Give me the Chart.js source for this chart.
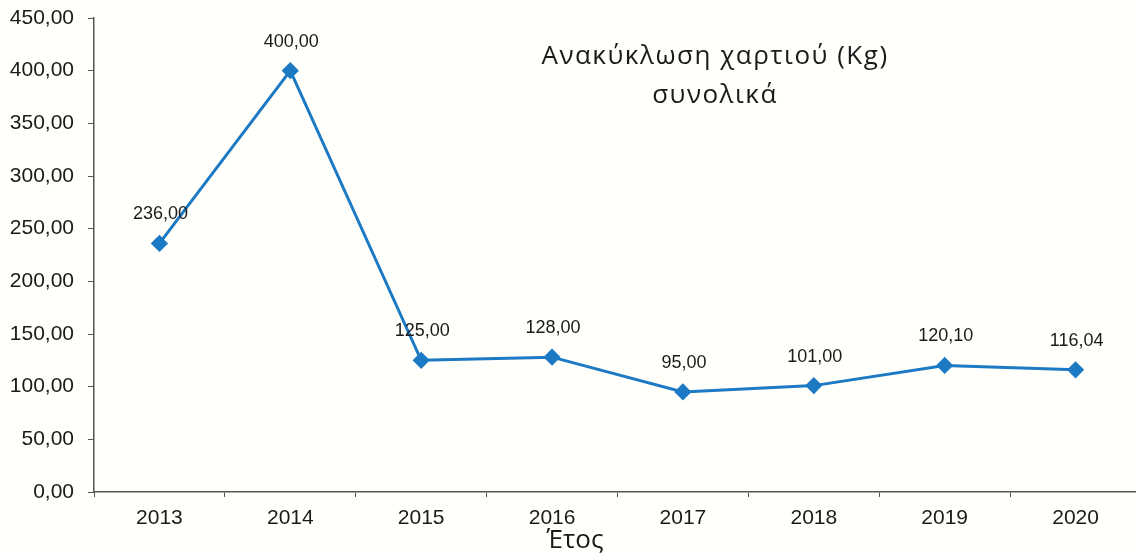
<!DOCTYPE html>
<html lang="el">
<head>
  <meta charset="UTF-8" />
  <title>Ανακύκλωση χαρτιού</title>
  <script src="https://cdn.jsdelivr.net/npm/chart.js"></script>
  <style>
    html, body { margin: 0; padding: 0; background: #fffffc; overflow: hidden; }
    #wrap { width: 1141px; height: 555px; }
  </style>
</head>
<body>
  <div id="wrap"><canvas id="chart"></canvas></div>
  <script>
    // δεδομένα
    const years = ['2013', '2014', '2015', '2016', '2017', '2018', '2019', '2020'];
    const kilos = [236.00, 400.00, 125.00, 128.00, 95.00, 101.00, 120.10, 116.04];
    const titleLines = ['Ανακύκλωση χαρτιού (Kg)', 'συνολικά'];
    const xTitle = 'Έτος';

    const fmt = v => v.toFixed(2).replace('.', ',');

    // ετικέτες τιμών πάνω από τα σημεία
    const valueLabels = {
      id: 'valueLabels',
      afterDatasetsDraw(chart) {
        const ctx = chart.ctx;
        const meta = chart.getDatasetMeta(0);
        ctx.save();
        ctx.font = '18px "Liberation Sans", Arial, sans-serif';
        ctx.fillStyle = '#1a1a1a';
        ctx.textAlign = 'center';
        ctx.textBaseline = 'middle';
        meta.data.forEach((pt, i) => {
          ctx.fillText(fmt(kilos[i]), pt.x + 1, pt.y - 29);
        });
        ctx.restore();
      }
    };

    // τίτλος μέσα στην περιοχή του γραφήματος + τίτλος άξονα x
    const texts = {
      id: 'texts',
      afterDraw(chart) {
        const ctx = chart.ctx;
        ctx.save();
        ctx.fillStyle = '#1a1a1a';
        ctx.textAlign = 'center';
        ctx.textBaseline = 'middle';
        ctx.font = '26px "Open Sans", sans-serif';
        ctx.letterSpacing = '1.5px';
        ctx.fillText(titleLines[0], 715, 57);
        ctx.fillText(titleLines[1], 715, 96);
        ctx.letterSpacing = '0px';
        ctx.fillText(xTitle, 575, 541);
        ctx.restore();
      }
    };

    new Chart(document.getElementById('chart'), {
      type: 'line',
      data: {
        labels: years,
        datasets: [{
          data: kilos,
          borderColor: '#1c79c3',
          backgroundColor: '#1c79c3',
          borderWidth: 3,
          pointStyle: 'rectRot',
          pointRadius: 6.5,
          tension: 0,
          clip: false
        }]
      },
      options: {
        responsive: true,
        maintainAspectRatio: false,
        animation: false,
        layout: { autoPadding: false, padding: { top: 18, right: 0, left: 0, bottom: 0 } },
        plugins: {
          legend: { display: false },
          tooltip: { enabled: false }
        },
        scales: {
          x: {
            offset: true,
            grid: { offset: true, drawOnChartArea: false, drawTicks: true, tickLength: 5, color: '#555' },
            border: { color: '#555', width: 1.5 },
            ticks: { color: '#1a1a1a', font: { size: 21, family: '"Liberation Sans", Arial' }, padding: 9 },
            afterFit(s) { s.height = 63; s.paddingLeft = 0; s.paddingRight = 0; }
          },
          y: {
            min: 0, max: 450,
            ticks: {
              stepSize: 50, color: '#1a1a1a', padding: 14,
              font: { size: 21, family: '"Liberation Sans", Arial' },
              callback: v => fmt(v)
            },
            grid: { drawOnChartArea: false, drawTicks: true, tickLength: 6, color: '#555' },
            border: { color: '#555', width: 1.5 },
            afterFit(s) { s.width = 94; s.paddingTop = 0; s.paddingBottom = 0; }
          }
        }
      },
      plugins: [valueLabels, texts]
    });
  </script>
</body>
</html>
